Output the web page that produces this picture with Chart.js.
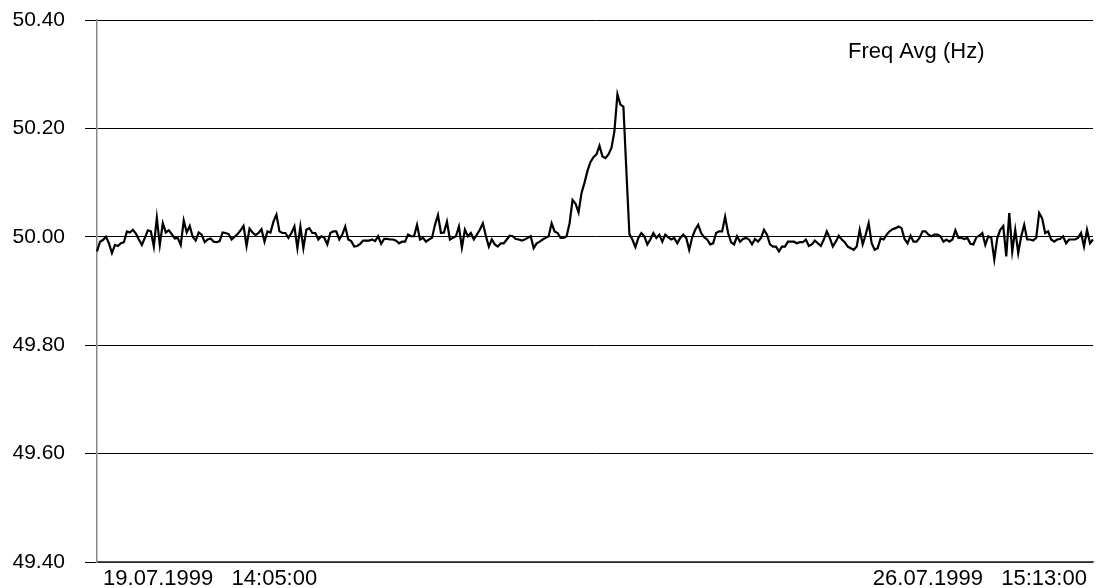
<!DOCTYPE html>
<html>
<head>
<meta charset="utf-8">
<title>Freq Avg (Hz)</title>
<script src="https://cdn.jsdelivr.net/npm/chart.js@4"></script>
<style>
  html, body { margin: 0; padding: 0; background: #fff; }
  #wrap { width: 1097px; height: 588px; }
</style>
</head>
<body>
<div id="wrap"><canvas id="freqChart"></canvas></div>
<script>
// Series name and the two time labels on the x axis
const seriesName = 'Freq Avg (Hz)';
const startLabel = '19.07.1999   14:05:00';
const endLabel = '26.07.1999   15:13:00';

// Y axis ticks (Hz)
const yTicks = [49.40, 49.60, 49.80, 50.00, 50.20, 50.40];

// Average frequency readings left to right
const freqPart1 = [
    49.973, 49.991, 49.994, 50.000, 49.988, 49.970, 49.985, 49.983, 49.988, 49.990,
    50.010, 50.008, 50.013, 50.006, 49.995, 49.985, 49.998, 50.012, 50.010, 49.982,
    50.035, 49.985, 50.025, 50.008, 50.012, 50.005, 49.997, 49.998, 49.985, 50.030,
    50.008, 50.020, 50.000, 49.993, 50.008, 50.004, 49.990, 49.995, 49.997, 49.991,
    49.990, 49.992, 50.008, 50.007, 50.005, 49.995, 50.000, 50.005, 50.012, 50.020,
    49.983, 50.015, 50.008, 50.003
];
const freqPart2 = [
    50.007, 50.014, 49.991, 50.010, 50.008, 50.028, 50.041, 50.010, 50.007, 50.007,
    49.998, 50.007, 50.019, 49.979, 50.019, 49.979, 50.013, 50.016, 50.007, 50.007,
    49.995, 50.001, 49.998, 49.986, 50.007, 50.010, 50.010, 49.995, 50.004, 50.019,
    49.995, 49.992, 49.982, 49.983, 49.987, 49.993, 49.993, 49.993, 49.995, 49.992,
    50.001, 49.987, 49.996, 49.996, 49.995, 49.995, 49.993, 49.988, 49.991, 49.991,
    50.004, 50.001, 50.001, 50.022
];
const freqPart3 = [
    49.995, 49.998, 49.991, 49.995, 49.998, 50.022, 50.040, 50.007, 50.008, 50.028,
    49.995, 49.998, 50.001, 50.019, 49.980, 50.013, 50.001, 50.007, 49.995, 50.004,
    50.013, 50.025, 50.002, 49.982, 49.995, 49.986, 49.982, 49.988, 49.988, 49.995,
    50.002, 50.001, 49.996, 49.995, 49.993, 49.995, 49.998, 50.001, 49.979, 49.988,
    49.991, 49.995, 49.998, 50.001, 50.025, 50.010, 50.007, 49.998, 49.998, 50.001,
    50.025, 50.068, 50.061
];
const freqPeak = [
    50.045, 50.081, 50.100, 50.122, 50.138, 50.147, 50.152, 50.168, 50.148, 50.145,
    50.152, 50.164, 50.195, 50.263, 50.244, 50.240, 50.120, 50.005
];
const freqPart4 = [
    49.995, 49.981, 49.998, 50.007, 50.001, 49.986, 49.995, 50.007, 49.998, 50.004,
    49.991, 50.004, 49.999, 49.995, 49.998, 49.988, 49.998, 50.004, 49.998, 49.976,
    49.999, 50.013, 50.022, 50.007, 49.999, 49.995, 49.986, 49.988, 50.007, 50.010,
    50.010, 50.037, 50.007, 49.990, 49.986, 50.001, 49.991, 49.996, 49.998, 49.995,
    49.986, 49.996, 49.991, 49.998, 50.013, 50.004, 49.986, 49.982, 49.982, 49.973,
    49.982, 49.982
];
const freqPart5 = [
    49.991, 49.991, 49.991, 49.988, 49.990, 49.990, 49.995, 49.983, 49.986, 49.993,
    49.988, 49.983, 49.995, 50.010, 49.998, 49.982, 49.991, 50.002, 49.995, 49.990,
    49.982, 49.979, 49.976, 49.982, 50.013, 49.986, 50.004, 50.025, 49.988, 49.976,
    49.979, 49.997, 49.995, 50.004, 50.010, 50.014, 50.016, 50.019, 50.016, 49.996,
    49.988, 50.002, 49.991, 49.991, 49.998, 50.010, 50.010, 50.004, 50.001, 50.004,
    50.004, 50.001, 49.991, 49.995
];
const freqPart6 = [
    49.991, 49.995, 50.012, 49.998, 49.998, 49.996, 49.998, 49.987, 49.986, 49.999,
    50.002, 50.007, 49.985, 50.001, 49.998, 49.958, 49.998, 50.013, 50.020, 49.964,
    50.044, 49.973, 50.013, 49.970, 50.001, 50.022, 49.995, 49.995, 49.993, 49.998,
    50.044, 50.034, 50.007, 50.010, 49.995, 49.991, 49.995, 49.996, 50.001, 49.988,
    49.995, 49.995, 49.995, 49.998, 50.007, 49.982, 50.013, 49.988, 49.995
];

const freqValues = [].concat(freqPart1, freqPart2, freqPart3, freqPeak, freqPart4, freqPart5, freqPart6);
const sampleLabels = freqValues.map((v, i) => i);

// Draws the series name inside the plot, top right
const seriesNamePlugin = {
    id: 'seriesName',
    afterDraw(chart) {
        const ctx = chart.ctx;
        ctx.save();
        ctx.font = '22px "Liberation Sans", Arial, sans-serif';
        ctx.fillStyle = '#000';
        ctx.textBaseline = 'middle';
        ctx.textAlign = 'left';
        ctx.fillText(seriesName, 848, 52);
        ctx.restore();
    }
};

const ctx = document.getElementById('freqChart').getContext('2d');
const freqChart = new Chart(ctx, {
    type: 'line',
    data: {
        labels: sampleLabels,
        datasets: [{
            label: seriesName,
            data: freqValues,
            borderColor: '#000',
            borderWidth: 2.2,
            pointRadius: 0,
            tension: 0,
            fill: false
        }]
    },
    options: {
        responsive: true,
        maintainAspectRatio: false,
        animation: false,
        layout: {
            padding: { top: 20, right: 0, bottom: 0, left: 10 }
        },
        scales: {
            x: {
                type: 'category',
                offset: false,
                grid: { display: false, drawTicks: false },
                border: { display: true, color: '#555', width: 1.5 },
                afterFit: function(axis) {
                    axis.height = 26;
                },
                ticks: {
                    autoSkip: false,
                    maxRotation: 0,
                    minRotation: 0,
                    align: 'inner',
                    padding: 4,
                    color: '#000',
                    font: { family: '"Liberation Sans", Arial, sans-serif', size: 22 },
                    callback: function(value, index, ticks) {
                        if (index === 0) return ' ' + startLabel;
                        if (index === ticks.length - 1) return endLabel + ' ';
                        return '';
                    }
                }
            },
            y: {
                min: yTicks[0],
                max: yTicks[yTicks.length - 1],
                afterBuildTicks: function(axis) {
                    axis.ticks = yTicks.map(v => ({ value: v }));
                },
                afterFit: function(axis) {
                    axis.width = 87;
                    axis.paddingTop = 0;
                    axis.paddingBottom = 0;
                },
                grid: {
                    color: '#000',
                    lineWidth: 1,
                    drawTicks: true,
                    tickLength: 12
                },
                border: { display: true, color: '#888', width: 1.5 },
                ticks: {
                    padding: 20,
                    color: '#000',
                    font: { family: '"Liberation Sans", Arial, sans-serif', size: 21 },
                    callback: function(value) {
                        return Number(value).toFixed(2);
                    }
                }
            }
        },
        plugins: {
            legend: { display: false },
            tooltip: { enabled: false }
        }
    },
    plugins: [seriesNamePlugin]
});
</script>
</body>
</html>
